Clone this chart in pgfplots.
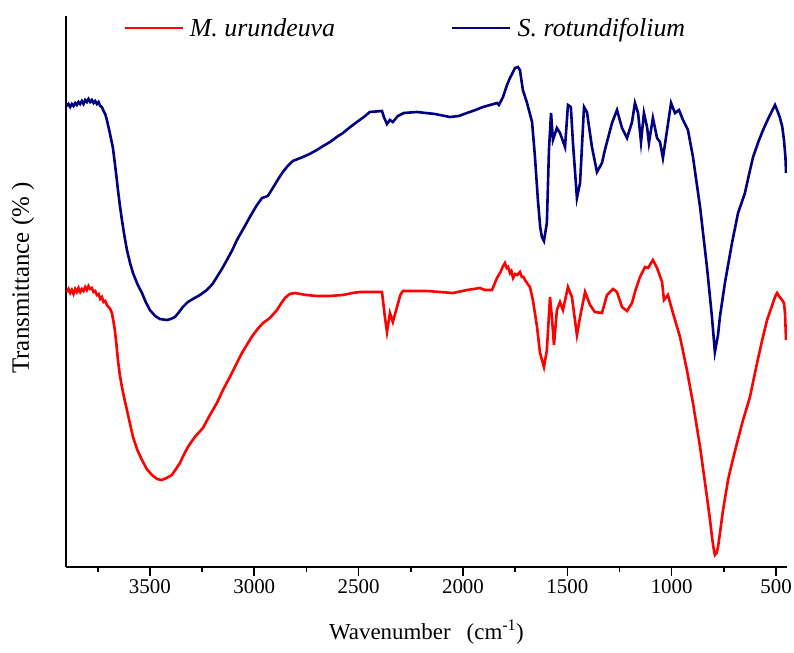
\documentclass[border=0pt]{standalone}
\usepackage{fontspec}
\setmainfont{Liberation Serif}
\usepackage{pgfplots}
\pgfplotsset{compat=1.18}
\definecolor{navyc}{RGB}{0,0,128}
\definecolor{redc}{RGB}{255,0,0}
\begin{document}
\begin{tikzpicture}
\begin{axis}[name=ax,
  scale only axis, width=721bp, height=551bp,
  x dir=reverse,
  xmin=447.5, xmax=3902, ymin=0, ymax=551,
  axis x line*=bottom, axis y line*=left,
  axis line style={line width=1.6bp, black},
  ytick=\empty,
  xtick={500,1000,1500,2000,2500,3000,3500},
  minor xtick={750,1250,1750,2250,2750,3250,3750},
  tick align=outside,
  major tick length=9bp, minor tick length=5bp,
  every tick/.style={line width=1.6bp, black},
  /pgf/number format/.cd, 1000 sep={}, assume math mode=true, /pgfplots/.cd,
  xticklabel style={font=\fontsize{21}{24}\selectfont},
  xlabel={Wavenumber\hspace{16bp}(cm\textsuperscript{-1})},
  ylabel={Transmittance (\%\ )},
  every axis x label/.style={at={(axis description cs:0.5,0)}, anchor=center, yshift=-65bp, font=\fontsize{23}{26}\selectfont},
  every axis y label/.style={at={(axis description cs:0,0.5245)}, xshift=-43bp, rotate=90, anchor=center, font=\fontsize{25}{28}\selectfont},
  legend columns=2,
  legend style={at={(axis description cs:0.075,0.978)}, anchor=west, draw=none, fill=none,
    font=\fontsize{26}{29}\selectfont\itshape,
    /tikz/every even column/.append style={column sep=114bp}},
  legend image code/.code={\draw[#1] (0bp,0bp) -- (58bp,0bp); \path (62bp,0bp);},
]
\addplot[redc, line width=2.6bp] coordinates {
(3898,275)(3890,278)(3882,274)(3874,277)(3866,273)(3858,278)(3850,275)(3842,279)(3834,275)(3826,278)
(3818,276)(3810,280)(3802,277)(3794,281)(3786,278)(3778,279)(3770,275)(3762,276)(3754,272)(3746,273)
(3738,268)(3730,270)(3722,265)(3714,266)(3706,262)
(3690,258)(3682,254)(3675,246)(3668,237)(3660,222)(3653,207)(3644,192)(3634,180)(3622,168)(3610,157)(3595,143)(3581,130)(3560,117)(3538,107)(3515,98)(3490,92)(3465,88)(3443,87)(3420,89)(3395,92)
(3375,98)(3356,104)(3338,112)(3318,120)(3285,130)(3246,139)(3215,151)(3179,164)(3150,177)(3117,190)(3088,202)(3059,214)(3030,224)(3006,232)(2980,239)(2958,244)(2925,249)(2891,257)
(2870,264)(2853,269)(2830,273)(2805,274)(2750,272)(2700,271)(2640,271)(2575,272)(2530,274)(2494,275)(2388,275)(2374,250)(2364,235)(2350,254)(2336,245)
(2316,260)(2300,272)(2288,276)(2230,276)(2173,276)(2110,275)(2048,274)(1980,277)(1919,279)(1895,277)(1871,277)(1861,277)(1837,289)(1820,295)(1810,300)(1799,304)(1790,299)(1784,300)
(1775,294)(1768,296)(1760,289)(1750,293)(1740,292)(1727,295)(1718,290)(1710,290)(1703,287)(1690,283)(1679,280)(1665,267)(1645,240)(1631,214)(1612,200)(1598,217)(1583,270)
(1574,250)(1564,222)(1550,257)(1535,265)(1521,257)(1497,280)(1478,270)(1454,232)(1439,250)(1415,275)
(1391,262)(1368,255)(1334,254)(1310,272)(1281,278)(1262,275)(1238,260)(1214,256)(1190,264)(1176,275)
(1152,290)(1128,300)(1113,299)(1090,307)(1070,299)(1046,285)(1037,267)(1018,272)(994,254)(960,230)
(927,197)(898,164)(864,120)(831,70)(815,45)(807,30)(800,20)(793,12)(785,14)(778,20)(766,38)(754,57)(742,72)(730,87)(710,105)(687,124)
(658,147)(625,170)(591,204)(565,228)(543,247)(528,256)(515,264)(505,270)(495,274)(483,270)(471,267)(462,264)(457,254)(452,227)
};
\addlegendentry{M. urundeuva}
\addplot[navyc, line width=2.6bp] coordinates {
(3898,461)(3890,463)(3882,460)(3874,463)(3866,461)(3858,464)(3850,462)(3842,465)(3834,463)(3826,466)
(3818,463)(3810,467)(3802,465)(3794,468)(3786,465)(3778,467)(3770,464)(3762,466)(3754,463)(3746,465)
(3738,461)(3730,460)(3722,456)(3714,453)(3706,447)
(3692,434)(3677,419)(3668,404)(3660,390)(3653,377)(3644,362)(3634,347)(3622,331)(3610,317)(3595,304)(3581,294)(3560,283)(3538,274)(3520,265)(3500,257)(3475,251)(3452,248)
(3419,247)(3400,248)(3380,250)(3360,255)(3342,260)(3318,265)(3294,268)(3260,272)(3227,277)(3200,283)(3179,290)(3155,298)(3131,307)(3105,317)(3083,327)(3050,339)(3021,350)(2990,361)(2963,369)
(2935,371)(2911,379)(2885,388)(2863,395)(2840,401)(2815,406)(2767,410)(2735,413)(2700,417)(2670,421)(2637,425)(2605,430)(2575,434)(2540,440)(2508,445)(2475,450)(2446,455)
(2388,456)(2379,450)(2364,443)(2350,447)(2336,445)(2312,451)(2283,454)(2221,455)(2134,453)(2062,450)
(2020,451)(1981,454)(1940,457)(1904,460)(1870,462)(1837,464)(1828,462)(1808,470)(1789,482)(1775,489)(1760,495)(1751,499)(1737,500)(1727,497)
(1713,477)(1693,464)(1669,445)(1655,410)(1641,367)(1630,340)(1622,330)(1612,326)(1598,344)(1588,417)(1578,454)
(1569,427)(1550,439)(1535,434)(1511,420)(1497,462)(1483,460)(1473,424)(1454,369)(1439,384)(1420,460)
(1406,455)(1382,420)(1358,395)(1334,404)(1320,417)(1286,444)(1262,457)(1238,439)(1214,429)(1190,445)
(1176,464)(1161,454)(1147,425)(1133,454)(1118,440)(1109,424)(1090,449)(1070,429)(1056,425)(1042,409)
(1027,430)(1003,464)(984,454)(965,457)(946,447)(922,437)(898,410)(864,360)(831,300)(807,250)
(793,215)(778,232)(769,250)(745,284)(711,324)(682,354)(649,374)(630,392)(610,410)(585,425)(562,437)(545,445)(529,452)
(517,457)(505,462)(493,456)(481,449)(470,440)(462,427)(455,410)(452,394)
};
\addlegendentry{S. rotundifolium}
\end{axis}
\pgfresetboundingbox
\path ([shift={(-66bp,-86bp)}]ax.south west) rectangle ([shift={(7bp,16bp)}]ax.north east);
\end{tikzpicture}
\end{document}
